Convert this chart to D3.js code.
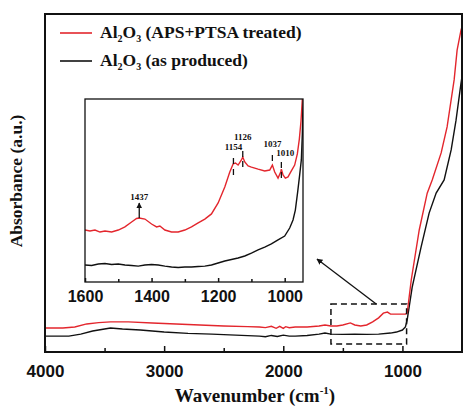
<!DOCTYPE html>
<html>
<head>
<meta charset="utf-8">
<script src="https://cdn.jsdelivr.net/npm/d3@7"></script>
<style>
  body { margin: 0; background: #fff; }
  svg { display: block; }
</style>
</head>
<body>
<div id="chart"></div>
<script>
// ---- data (absorbance in arbitrary units) ----
var seriesNames = ["Al2O3 (APS+PTSA treated)", "Al2O3 (as produced)"]
var seriesColors = ["#e3262d", "#111111"]

var treatedWn  = [4000,3850,3750,3650,3550,3450,3300,3100,2900,2700,2500,2300,2200,2150,2100,2060,2030,2000,1980,1950,1900,1800,1700,1650,1600,1550,1500,1437,1400,1350,1300,1250,1200,1160,1126,1100,1050,1010,975,960,926,859,792,750,675,625,566,541,508,500]
var treatedAbs = [7.1,7.1,7.4,8.3,8.7,8.9,8.9,8.6,8.3,8.0,7.7,7.5,7.4,7.2,7.6,7.0,7.6,7.0,7.5,7.2,7.4,7.4,7.7,8.0,7.7,7.7,8.0,8.6,8.0,7.7,8.0,8.9,10.1,11.5,11.8,11.2,11.2,11.2,11.2,11.5,21.3,36.1,47.0,50.9,58.9,66.6,80.5,89.3,95.3,96.2]

var producedWn  = [4000,3800,3700,3600,3500,3450,3350,3200,3000,2800,2600,2400,2200,2150,2100,2050,2000,1950,1900,1800,1700,1650,1600,1500,1400,1300,1200,1100,1050,1000,975,960,918,843,776,717,650,591,550,508,500]
var producedAbs = [4.7,4.7,5.3,6.2,6.8,7.1,6.8,6.5,5.9,5.5,5.3,5.0,4.7,4.5,4.9,4.6,5.0,4.7,4.7,4.9,5.3,5.6,5.3,5.2,5.3,5.2,5.3,5.6,5.9,6.5,7.4,9.5,19.2,31.1,41.1,47.0,50.9,59.8,68.6,79.6,81.5]

// inset (1600-945 cm-1), own absorbance scale
var insetTreatedWn  = [1600,1585,1570,1555,1540,1520,1500,1480,1460,1445,1437,1420,1400,1385,1375,1360,1340,1320,1300,1280,1260,1240,1220,1200,1180,1165,1155,1148,1140,1130,1126,1120,1110,1100,1080,1060,1045,1037,1030,1020,1012,1010,1005,998,990,980,970,962,956,951,947]
var insetTreatedAbs = [28.4,27.9,28.4,27.3,27.9,27.3,28.4,30.1,32.8,34.7,35.0,34.4,31.7,30.1,30.6,28.4,27.3,27.3,28.4,30.1,32.3,34.4,37.2,43.2,51.9,60.1,64.5,65.0,63.9,66.7,68.3,65.6,63.4,62.8,61.7,60.7,61.2,63.9,60.1,56.8,60.1,61.7,58.5,56.8,57.4,60.7,63.9,70.0,78.1,88.0,100]

var insetProducedWn  = [1600,1580,1560,1540,1520,1500,1480,1460,1440,1420,1400,1380,1360,1340,1320,1300,1280,1260,1240,1220,1200,1180,1160,1140,1120,1100,1080,1060,1040,1020,1000,985,975,968,961,955,950,947,945]
var insetProducedAbs = [9.3,9.0,9.8,10.1,9.6,9.8,9.3,9.0,8.7,9.3,9.6,9.3,8.7,8.2,7.9,8.2,8.2,8.5,8.7,9.3,10.4,11.5,12.3,13.1,14.2,15.8,17.5,19.1,20.8,23.0,25.1,29.5,33.9,39.3,49.2,58.5,66.7,80.9,100]

var mainTicks = [4000, 3000, 2000, 1000]
var mainMinorTicks = [3500, 2500, 1500]
var insetTicks = [1600, 1400, 1200, 1000]
var insetMinorTicks = [1500, 1300, 1100]

var peakLabels = ["1437", "1154", "1126", "1037", "1010"]

// zoom box on the main plot (wavenumber range, absorbance range)
var zoomWn = [1600, 965]
var zoomAbs = [2.4, 14.2]

// ---- layout ----
var svgWidth = 463
var svgHeight = 407

var svg = d3.select("#chart").append("svg")
    .attr("width", svgWidth)
    .attr("height", svgHeight)

svg.append("rect").attr("width", svgWidth).attr("height", svgHeight).attr("fill", "#fff")

var x = d3.scaleLinear().domain([4000, 500]).range([45, 462])
var y = d3.scaleLinear().domain([0, 100]).range([352, 14])

var xi = d3.scaleLinear().domain([1600, 945]).range([85, 303])
var yi = d3.scaleLinear().domain([0, 100]).range([282, 99])

var defs = svg.append("defs")
defs.append("clipPath").attr("id", "clipMain").append("rect")
    .attr("x", x.range()[0]).attr("y", y.range()[1])
    .attr("width", x.range()[1] - x.range()[0]).attr("height", y.range()[0] - y.range()[1])
defs.append("clipPath").attr("id", "clipInset").append("rect")
    .attr("x", xi.range()[0]).attr("y", yi.range()[1])
    .attr("width", xi.range()[1] - xi.range()[0]).attr("height", yi.range()[0] - yi.range()[1])

defs.append("marker")
    .attr("id", "arrow")
    .attr("viewBox", "0 0 10 10")
    .attr("refX", 9).attr("refY", 5)
    .attr("markerWidth", 6).attr("markerHeight", 6)
    .attr("markerUnits", "userSpaceOnUse")
    .attr("orient", "auto")
    .append("path").attr("d", "M0,0 L10,5 L0,10 z").attr("fill", "#111")

function zip(w, a) {
    return w.map(function(d, i) { return { wn: d, abs: a[i] } })
}

var mainLine = d3.line().x(function(d) { return x(d.wn) }).y(function(d) { return y(d.abs) })
var insetLine = d3.line().x(function(d) { return xi(d.wn) }).y(function(d) { return yi(d.abs) })

// main curves
var mainG = svg.append("g").attr("clip-path", "url(#clipMain)")
mainG.append("path").datum(zip(producedWn, producedAbs))
    .attr("d", mainLine).attr("fill", "none")
    .attr("stroke", seriesColors[1]).attr("stroke-width", 1.4)
mainG.append("path").datum(zip(treatedWn, treatedAbs))
    .attr("d", mainLine).attr("fill", "none")
    .attr("stroke", seriesColors[0]).attr("stroke-width", 1.4)

// main frame
svg.append("rect")
    .attr("x", x.range()[0]).attr("y", y.range()[1])
    .attr("width", x.range()[1] - x.range()[0]).attr("height", y.range()[0] - y.range()[1])
    .attr("fill", "none").attr("stroke", "#111").attr("stroke-width", 2)

function styleAxis(g, fontSize) {
    g.select(".domain").remove()
    g.selectAll("line").attr("stroke", "#111").attr("stroke-width", 1.5)
    g.selectAll("text")
        .style("font-family", "'Liberation Sans', Arial, sans-serif")
        .style("font-weight", "bold")
        .style("font-size", fontSize + "px")
        .attr("fill", "#111")
}

svg.append("g")
    .attr("transform", "translate(0," + y.range()[0] + ")")
    .call(d3.axisBottom(x).tickValues(mainTicks).tickFormat(d3.format("d"))
        .tickSizeInner(-6).tickSizeOuter(0).tickPadding(13))
    .call(function(g) { styleAxis(g, 17) })

svg.append("g")
    .attr("transform", "translate(0," + y.range()[0] + ")")
    .call(d3.axisBottom(x).tickValues(mainMinorTicks).tickFormat("")
        .tickSizeInner(-4).tickSizeOuter(0))
    .call(function(g) { styleAxis(g, 17) })

// axis titles
var xTitle = svg.append("text")
    .attr("x", 255).attr("y", 402)
    .attr("text-anchor", "middle")
    .style("font-family", "'Liberation Serif', 'Times New Roman', serif")
    .style("font-weight", "bold").style("font-size", "19px")
    .attr("fill", "#111")
xTitle.append("tspan").text("Wavenumber (cm")
xTitle.append("tspan").attr("dy", -8).style("font-size", "11px").text("-1")
xTitle.append("tspan").attr("dy", 8).text(")")

svg.append("text")
    .attr("transform", "translate(22,181) rotate(-90)")
    .attr("text-anchor", "middle")
    .style("font-family", "'Liberation Serif', 'Times New Roman', serif")
    .style("font-weight", "bold").style("font-size", "17.5px")
    .attr("fill", "#111")
    .text("Absorbance (a.u.)")

// legend
var legend = svg.append("g").selectAll("g").data(seriesNames).enter().append("g")
    .attr("transform", function(d, i) { return "translate(0," + (33 + i * 28) + ")" })
legend.append("line")
    .attr("x1", 60).attr("x2", 92)
    .attr("stroke", function(d, i) { return seriesColors[i] }).attr("stroke-width", 1.6)
legend.each(function(d) {
    var t = d3.select(this).append("text")
        .attr("x", 100).attr("y", 5)
        .style("font-family", "'Liberation Serif', 'Times New Roman', serif")
        .style("font-weight", "bold").style("font-size", "17.5px")
        .attr("fill", "#111")
    t.append("tspan").text("Al")
    t.append("tspan").attr("dy", 4).style("font-size", "10px").text("2")
    t.append("tspan").attr("dy", -4).text("O")
    t.append("tspan").attr("dy", 4).style("font-size", "10px").text("3")
    t.append("tspan").attr("dy", -4).text(d.replace("Al2O3", ""))
})

// dashed zoom box + pointer arrow
svg.append("rect")
    .attr("x", x(zoomWn[0])).attr("y", y(zoomAbs[1]))
    .attr("width", x(zoomWn[1]) - x(zoomWn[0])).attr("height", y(zoomAbs[0]) - y(zoomAbs[1]))
    .attr("fill", "none").attr("stroke", "#111").attr("stroke-width", 1.5)
    .attr("stroke-dasharray", "6,4")

svg.append("line")
    .attr("x1", x(1220)).attr("y1", y(zoomAbs[1]))
    .attr("x2", 317).attr("y2", 259)
    .attr("stroke", "#111").attr("stroke-width", 1.3)
    .attr("marker-end", "url(#arrow)")

// ---- inset ----
svg.append("rect")
    .attr("x", xi.range()[0]).attr("y", yi.range()[1])
    .attr("width", xi.range()[1] - xi.range()[0]).attr("height", yi.range()[0] - yi.range()[1])
    .attr("fill", "#fff")

var insetG = svg.append("g").attr("clip-path", "url(#clipInset)")
insetG.append("path").datum(zip(insetProducedWn, insetProducedAbs))
    .attr("d", insetLine).attr("fill", "none")
    .attr("stroke", seriesColors[1]).attr("stroke-width", 1.4)
insetG.append("path").datum(zip(insetTreatedWn, insetTreatedAbs))
    .attr("d", insetLine).attr("fill", "none")
    .attr("stroke", seriesColors[0]).attr("stroke-width", 1.4)

svg.append("rect")
    .attr("x", xi.range()[0]).attr("y", yi.range()[1])
    .attr("width", xi.range()[1] - xi.range()[0]).attr("height", yi.range()[0] - yi.range()[1])
    .attr("fill", "none").attr("stroke", "#111").attr("stroke-width", 1.3)

svg.append("g")
    .attr("transform", "translate(0," + yi.range()[0] + ")")
    .call(d3.axisBottom(xi).tickValues(insetTicks).tickFormat(d3.format("d"))
        .tickSizeInner(-4).tickSizeOuter(0).tickPadding(9))
    .call(function(g) { styleAxis(g, 16) })
svg.append("g")
    .attr("transform", "translate(0," + yi.range()[0] + ")")
    .call(d3.axisBottom(xi).tickValues(insetMinorTicks).tickFormat("")
        .tickSizeInner(-3).tickSizeOuter(0))
    .call(function(g) { styleAxis(g, 16) })

// peak annotations: label baseline and marker segments (pixel offsets)
var peakLayout = {
    "1437": { text: 200, marks: [] },
    "1154": { text: 150, marks: [[158, 164], [169, 175]] },
    "1126": { text: 140, marks: [[151, 157], [161, 167]] },
    "1037": { text: 147, marks: [[155, 161]] },
    "1010": { text: 156, marks: [[162, 168], [172, 178]] }
}
var peaks = svg.append("g").selectAll("g").data(peakLabels).enter().append("g")
peaks.append("text")
    .attr("x", function(d) { return xi(+d) + (d === "1010" ? 4 : 0) })
    .attr("y", function(d) { return peakLayout[d].text })
    .attr("text-anchor", "middle")
    .style("font-family", "'Liberation Serif', 'Times New Roman', serif")
    .style("font-weight", "bold").style("font-size", "9px")
    .attr("fill", "#111")
    .text(function(d) { return d })
peaks.each(function(d) {
    var g = d3.select(this)
    peakLayout[d].marks.forEach(function(m) {
        g.append("line")
            .attr("x1", xi(+d)).attr("x2", xi(+d))
            .attr("y1", m[0]).attr("y2", m[1])
            .attr("stroke", "#111").attr("stroke-width", 1.3)
    })
})
svg.append("line")
    .attr("x1", xi(1437)).attr("x2", xi(1437))
    .attr("y1", 218).attr("y2", 203)
    .attr("stroke", "#111").attr("stroke-width", 1.3)
    .attr("marker-end", "url(#arrow)")
</script>
</body>
</html>
